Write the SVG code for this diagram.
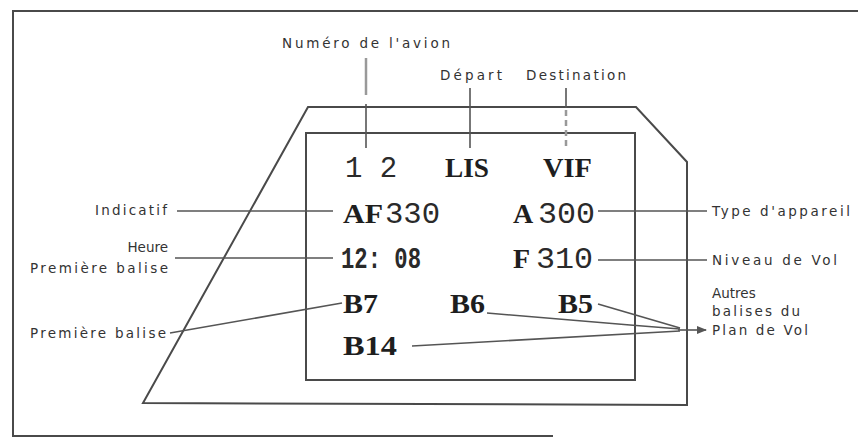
<svg xmlns="http://www.w3.org/2000/svg" width="858" height="438" viewBox="0 0 858 438">
<style>
.frame{fill:none;stroke:#4a4a4a;stroke-width:2}
.ln{fill:none;stroke:#555;stroke-width:1.6}
.lt{fill:none;stroke:#999;stroke-width:2.5}
.lab{font-family:"DejaVu Sans",sans-serif;font-size:13.5px;fill:#333}
.scr{font-family:"Liberation Serif",serif;font-weight:bold;font-size:28px;fill:#1e1e1e}
.dig{font-family:"Liberation Mono",monospace;font-size:29px;fill:#2a2a2a}
</style>
<defs>
<marker id="ah" markerWidth="10" markerHeight="8" refX="9" refY="4" orient="auto" markerUnits="userSpaceOnUse">
<path d="M0,0 L10,4 L0,8 Z" fill="#555"/>
</marker>
</defs>
<rect width="858" height="438" fill="#fff"/>
<g id="frame">
<path class="frame" d="M858,11 L13,11 L13,436 L553,436"/>
</g>
<g id="screen">
<path class="frame" d="M308,107 L636,107 L687,162 L687,405 L143,403 Z"/>
<rect class="frame" x="306" y="133" width="329" height="247"/>
</g>
<g id="connectors">
<line class="lt" x1="366" y1="58" x2="366" y2="95"/>
<line class="ln" x1="366" y1="104" x2="366" y2="148"/>
<line class="ln" x1="470" y1="88" x2="470" y2="148"/>
<line class="ln" x1="566" y1="88" x2="566" y2="108"/>
<line class="lt" x1="566" y1="110" x2="566" y2="146" stroke-dasharray="6 4"/>
<line class="ln" x1="177" y1="211" x2="333" y2="211"/>
<line class="ln" x1="175" y1="258" x2="333" y2="258"/>
<line class="ln" x1="170" y1="333" x2="342" y2="303"/>
<line class="ln" x1="598" y1="211" x2="707" y2="211"/>
<line class="ln" x1="598" y1="260" x2="707" y2="260"/>
<polyline class="ln" points="598,304 680,328"/>
<polyline class="ln" points="487,313 630,325 680,329"/>
<polyline class="ln" points="412,346 680,331"/>
<line class="ln" x1="678" y1="330" x2="706" y2="330" marker-end="url(#ah)"/>
</g>
<g id="top-labels">
<text class="lab" x="282" y="48" textLength="168" lengthAdjust="spacing">Numéro de l'avion</text>
<text class="lab" x="440" y="80" textLength="62" lengthAdjust="spacing">Départ</text>
<text class="lab" x="526" y="80" textLength="100" lengthAdjust="spacing">Destination</text>
</g>
<g id="left-labels">
<text class="lab" x="95" y="215" textLength="72" lengthAdjust="spacing">Indicatif</text>
<text class="lab" x="168" y="252" text-anchor="end">Heure</text>
<text class="lab" x="30" y="273" textLength="138" lengthAdjust="spacing">Première balise</text>
<text class="lab" x="30" y="338" textLength="136" lengthAdjust="spacing">Première balise</text>
</g>
<g id="right-labels">
<text class="lab" x="712" y="216" textLength="138" lengthAdjust="spacing">Type d'appareil</text>
<text class="lab" x="712" y="265" textLength="125" lengthAdjust="spacing">Niveau de Vol</text>
<text class="lab" x="712" y="298">Autres</text>
<text class="lab" x="712" y="316" textLength="88" lengthAdjust="spacing">balises du</text>
<text class="lab" x="712" y="335" textLength="96" lengthAdjust="spacing">Plan de Vol</text>
</g>
<g id="display">
<text class="dig" x="345" y="177">1 2</text>
<text class="scr" x="445" y="177" textLength="44" lengthAdjust="spacingAndGlyphs">LIS</text>
<text class="scr" x="543" y="177" textLength="49" lengthAdjust="spacingAndGlyphs">VIF</text>
<text class="scr" x="343" y="223" textLength="40" lengthAdjust="spacingAndGlyphs">AF</text>
<text class="dig" x="385" y="223" textLength="55" lengthAdjust="spacingAndGlyphs">330</text>
<text class="scr" x="513" y="223">A</text>
<text class="dig" x="538" y="223" textLength="57" lengthAdjust="spacingAndGlyphs">300</text>
<text class="dig" x="341" y="268" font-weight="bold" textLength="80" lengthAdjust="spacingAndGlyphs">12: 08</text>
<text class="scr" x="513" y="268">F</text>
<text class="dig" x="536" y="268" textLength="57" lengthAdjust="spacingAndGlyphs">310</text>
<text class="scr" x="343" y="313" textLength="35" lengthAdjust="spacingAndGlyphs">B7</text>
<text class="scr" x="450" y="313" textLength="35" lengthAdjust="spacingAndGlyphs">B6</text>
<text class="scr" x="558" y="313" textLength="35" lengthAdjust="spacingAndGlyphs">B5</text>
<text class="scr" x="343" y="355" textLength="54" lengthAdjust="spacingAndGlyphs">B14</text>
</g>
</svg>
